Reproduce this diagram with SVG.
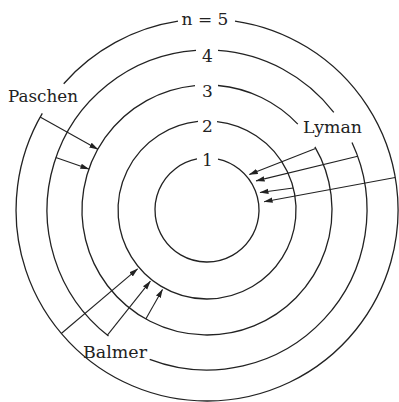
<svg xmlns="http://www.w3.org/2000/svg" width="399" height="402" viewBox="0 0 399 402">
<style>
.orb{fill:none;stroke:#222;stroke-width:1.3}
.con{fill:none;stroke:#222;stroke-width:1.1}
.lbl{font-family:"DejaVu Serif","Liberation Serif",serif;font-size:17px;fill:#222}
</style>
<defs>
<marker id="ah" markerWidth="9" markerHeight="6" refX="8.5" refY="3" orient="auto" markerUnits="userSpaceOnUse">
<path d="M0,0.3 L9,3 L0,5.7 z" fill="#222"/>
</marker>
</defs>
<rect width="399" height="402" fill="#fff"/>
<g id="orbit1">
<path class="orb" d="M 218 159.18 A 52 52 0 1 1 197 158.97"/>
<text class="lbl" x="207.5" y="166" text-anchor="middle">1</text>
</g>
<g id="orbit2">
<path class="orb" d="M 217 121.56 A 89 89 0 1 1 198 121.46"/>
<text class="lbl" x="207.5" y="132" text-anchor="middle">2</text>
</g>
<g id="orbit3">
<path class="orb" d="M 218 85.48 A 125 125 0 0 1 297.8 124.1 M 314.9 146.9 A 125 125 0 1 1 195 85.58"/>
<text class="lbl" x="207.5" y="97" text-anchor="middle">3</text>
</g>
<g id="orbit4">
<path class="orb" d="M 218 50.38 A 160 160 0 0 1 333.8 112.4 M 352.0 142.4 A 160 160 0 0 1 149.7 359.4 M 108.5 336.1 A 160 160 0 0 1 196 50.45"/>
<text class="lbl" x="207.5" y="62" text-anchor="middle">4</text>
</g>
<g id="orbit5">
<path class="orb" d="M 235 21.06 A 191 191 0 1 1 42.3 113.4 M 63.7 83.7 A 191 191 0 0 1 178 21.2"/>
<text class="lbl" x="205" y="25" text-anchor="middle">n = 5</text>
</g>
<g id="paschen">
<text class="lbl" x="8" y="102" textLength="70" lengthAdjust="spacingAndGlyphs">Paschen</text>
</g>
<g id="lyman">
<text class="lbl" x="303" y="133" textLength="59" lengthAdjust="spacingAndGlyphs">Lyman</text>
</g>
<g id="balmer">
<text class="lbl" x="83" y="358" textLength="64" lengthAdjust="spacingAndGlyphs">Balmer</text>
</g>
<g id="connectors">
<path class="con" marker-end="url(#ah)" d="M 40.1 117.1 L 97.8 149.2"/>
<path class="con" marker-end="url(#ah)" d="M 55.8 157.6 L 88.9 169.1"/>
<path class="con" marker-end="url(#ah)" d="M 61.3 333.5 L 137.6 268.9"/>
<path class="con" marker-end="url(#ah)" d="M 107.4 335.2 L 150.4 281.2"/>
<path class="con" marker-end="url(#ah)" d="M 145.8 319.0 L 162.5 289.4"/>
<path class="con" marker-end="url(#ah)" d="M 315.5 148.5 L 249.3 174.5"/>
<path class="con" marker-end="url(#ah)" d="M 357.7 156.3 L 256.1 180.9"/>
<path class="con" marker-end="url(#ah)" d="M 293.2 188 L 260 192.5"/>
<path class="con" marker-end="url(#ah)" d="M 395.2 177.5 L 264.1 201.7"/>
</g>
</svg>
